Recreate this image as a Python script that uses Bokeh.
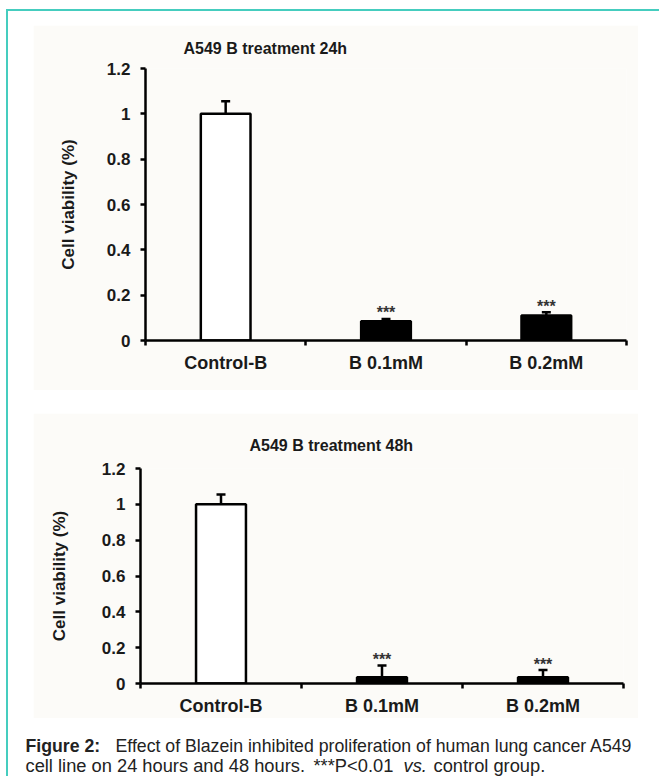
import numpy as np
from bokeh.plotting import figure
from bokeh.models import (Range1d, FixedTicker, Whisker, TeeHead, ColumnDataSource)
from bokeh.layouts import column
from bokeh.embed import file_html
from bokeh.resources import INLINE
from bokeh.core.properties import value

# ---------------- data ----------------
categories = ["Control-B", "B 0.1mM", "B 0.2mM"]
viability_24h = [1.00, 0.085, 0.11]
error_24h = [0.055, 0.01, 0.015]
viability_48h = [1.00, 0.035, 0.035]
error_48h = [0.055, 0.065, 0.04]
significance = ["", "***", "***"]
y_ticks = [0, 0.2, 0.4, 0.6, 0.8, 1.0, 1.2]
y_tick_labels = ["0", "0.2", "0.4", "0.6", "0.8", "1", "1.2"]
titles = ["A549 B treatment 24h", "A549 B treatment 48h"]
y_axis_label = "Cell viability (%)"
caption_bold = "Figure 2:"
caption_line1 = "Effect of Blazein inhibited proliferation of human lung cancer A549"
caption_line2a = "cell line on 24 hours and 48 hours."
caption_line2b = "***P<0.01"
caption_line2c = "vs."
caption_line2d = "control group."

# ---------------- style ----------------
FONT = "Liberation Sans"
PANEL = "#fcfbf8"
TEAL = "#45cdbf"
bar_fill = ["white", "black", "black"]


def make_chart(title, vals, errs, frame_w, frame_h, borders, title_offset, title_standoff,
               lbl_standoff):
    n = len(categories)
    centers = np.arange(n) + 0.5
    bounds = list(np.arange(n + 1).astype(float))
    ymax = y_ticks[-1]
    p = figure(frame_width=frame_w, frame_height=frame_h, output_backend="svg",
               toolbar_location=None,
               x_range=Range1d(0, n), y_range=Range1d(0, ymax), title=title,
               min_border_left=borders[0], min_border_right=borders[1],
               min_border_top=borders[2], min_border_bottom=borders[3],
               background_fill_color=PANEL, border_fill_color=PANEL,
               outline_line_color=None, tools="", frame_align=False)
    p.xgrid.visible = False
    p.ygrid.visible = False
    p.title.align = "left"
    p.title.offset = title_offset
    p.title.standoff = title_standoff
    p.title.text_font = FONT
    p.title.text_font_style = "bold"
    p.title.text_font_size = "16px"
    p.title.text_color = "#1a1a1a"

    vals = np.array(vals)
    errs = np.array(errs)
    src = ColumnDataSource(dict(x=centers, top=vals, upper=vals + errs, fill=bar_fill,
                                sig=significance))
    p.vbar(x="x", top="top", width=0.31, source=src, fill_color="fill",
           line_color="black", line_width=2.5)
    w = Whisker(source=src, base="x", lower="top", upper="upper", dimension="height",
                line_color="black", line_width=2.5, lower_head=None,
                upper_head=TeeHead(size=9, line_width=2.5, line_color="black"))
    p.add_layout(w)
    p.text(x="x", y="upper", text="sig", source=src, text_align="center",
           text_baseline="alphabetic", y_offset=-6, text_font=value(FONT),
           text_font_style="bold", text_font_size="16px", text_color="#333333")

    # axes
    yax = p.yaxis[0]
    yax.ticker = FixedTicker(ticks=y_ticks, minor_ticks=[])
    yax.major_label_overrides = {t: l for t, l in zip(y_ticks, y_tick_labels)}
    yax.axis_line_width = 2.5
    yax.major_tick_line_width = 2.5
    yax.major_tick_out = 5
    yax.major_tick_in = 0
    yax.major_label_standoff = 10
    yax.major_label_text_font = FONT
    yax.major_label_text_font_style = "bold"
    yax.major_label_text_font_size = "17px"
    yax.major_label_text_color = "#1a1a1a"
    yax.axis_label = y_axis_label
    yax.axis_label_text_font = FONT
    yax.axis_label_text_font_style = "bold"
    yax.axis_label_text_font_size = "17px"
    yax.axis_label_text_color = "#1a1a1a"
    yax.axis_label_standoff = lbl_standoff

    xax = p.xaxis[0]
    xax.ticker = FixedTicker(ticks=list(centers), minor_ticks=bounds)
    xax.major_label_overrides = {float(c): name for c, name in zip(centers, categories)}
    xax.axis_line_width = 2.5
    xax.major_tick_line_color = None
    xax.major_tick_out = 0
    xax.major_tick_in = 0
    xax.minor_tick_line_color = "black"
    xax.minor_tick_line_width = 2.5
    xax.minor_tick_out = 5
    xax.minor_tick_in = 0
    xax.major_label_standoff = 7
    xax.major_label_text_font = FONT
    xax.major_label_text_font_style = "bold"
    xax.major_label_text_font_size = "18px"
    xax.major_label_text_color = "#1a1a1a"
    return p


p1 = make_chart(titles[0], viability_24h, error_24h, 481, 272, (112, 12, 43, 50),
                38, 23, 26)
p1.margin = (14, 0, 0, 25)
p2 = make_chart(titles[1], viability_48h, error_48h, 483, 215, (107, 15, 55, 33),
                109, 29, 30)
p2.margin = (23, 0, 0, 25)

# caption
cw, ch = 651, 58
cap = figure(width=cw, height=ch, output_backend="svg", toolbar_location=None,
             x_range=Range1d(0, cw), y_range=Range1d(ch, 0), min_border=0,
             outline_line_color=None, tools="", background_fill_color="white",
             border_fill_color="white", frame_align=False)
cap.axis.visible = False
cap.grid.visible = False
cap.margin = (0, 0, 0, 0)
segs = ColumnDataSource(dict(
    x=[17, 107, 17, 305, 395, 425],
    y=[27, 27, 47, 47, 47, 47],
    text=[caption_bold, caption_line1, caption_line2a, caption_line2b, caption_line2c,
          caption_line2d],
    style=["bold", "normal", "normal", "normal", "italic", "normal"],
    size=["17.7px", "17.7px", "18.3px", "18.3px", "18.3px", "18.3px"],
))
cap.text(x="x", y="y", text="text", source=segs, text_font=value(FONT),
         text_font_style="style", text_font_size="size", text_baseline="alphabetic",
         text_align="left", text_color="#222222")

layout = column(p1, p2, cap, spacing=0,
                styles={"border-top": f"2px solid {TEAL}", "border-left": f"2px solid {TEAL}"})
layout.margin = (9, 0, 0, 6)

open("out.html", "w").write(file_html(layout, INLINE))
